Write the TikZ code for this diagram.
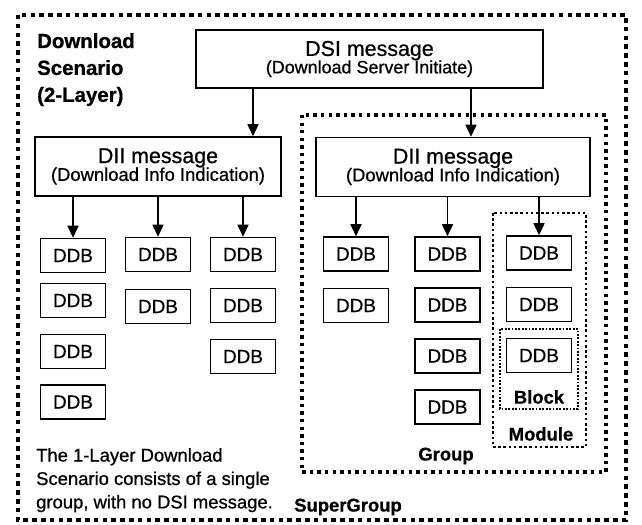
\documentclass[tikz,border=0pt]{standalone}
\usepackage{fontspec}
\setmainfont{Liberation Sans}[FakeBold=0.7]
\usetikzlibrary{arrows.meta}
\begin{document}
\begin{tikzpicture}[x=1bp,y=-1bp,
  box/.style={draw,line width=1.5bp,inner sep=0pt},
  msgbox/.style={box,align=center},
  ddb/.style={box,minimum width=65bp,minimum height=34bp,font=\fontsize{19}{20}\selectfont},
  arr/.style={line width=1.5bp,-{Triangle[width=11bp,length=12bp]}},
  outerframe/.style={line width=4.5bp,dash pattern=on 4.5bp off 4.3bp},
  groupframe/.style={line width=3.3bp,dash pattern=on 3.3bp off 4.3bp},
  moduleframe/.style={line width=2.6bp,dash pattern=on 2.6bp off 2.6bp},
  blockframe/.style={line width=1.6bp,dash pattern=on 1.8bp off 1.6bp},
  lbl/.style={font=\bfseries\fontsize{18.5}{20}\selectfont,inner sep=0pt}]
\useasboundingbox[fill=white] (0,0) rectangle (642,525);
% frames
\draw[outerframe] (18,15) rectangle (626,520);
\draw[groupframe] (302,115) rectangle (606,472);
\draw[moduleframe] (493,213) rectangle (586,447);
\draw[blockframe] (500,329) rectangle (578,409);
% message boxes
\node[msgbox,minimum width=347bp,minimum height=58bp] (dsi) at (369.5,59)
  {\fontsize{21.5}{26}\selectfont DSI message\\[-1bp]\fontsize{18}{22}\selectfont (Download Server Initiate)};
\node[msgbox,minimum width=246bp,minimum height=59bp] (ldii) at (158,166.5)
  {\fontsize{21.5}{26}\selectfont DII message\\[-1bp]\fontsize{18.5}{22}\selectfont (Download Info Indication)};
\node[msgbox,minimum width=274bp,minimum height=59bp] (rdii) at (453,167)
  {\fontsize{21.5}{26}\selectfont DII message\\[-1bp]\fontsize{18.5}{22}\selectfont (Download Info Indication)};
% DDB boxes, left group
\node[ddb] (a1) at (73,255.5) {DDB};
\node[ddb] (a2) at (73,300.5) {DDB};
\node[ddb] (a3) at (73,351.5) {DDB};
\node[ddb] (a4) at (73,402) {DDB};
\node[ddb] (b1) at (158,254.5) {DDB};
\node[ddb] (b2) at (158,306.5) {DDB};
\node[ddb] (c1) at (243,254.5) {DDB};
\node[ddb] (c2) at (243,305.5) {DDB};
\node[ddb] (c3) at (243,356.5) {DDB};
% DDB boxes, right group
\node[ddb] (d1) at (356,254) {DDB};
\node[ddb] (d2) at (356,305.5) {DDB};
\node[ddb] (e1) at (447.5,254) {DDB};
\node[ddb] (e2) at (447.5,305) {DDB};
\node[ddb] (e3) at (447.5,356) {DDB};
\node[ddb] (e4) at (447.5,407) {DDB};
\node[ddb] (f1) at (539,253) {DDB};
\node[ddb] (f2) at (539,304.5) {DDB};
\node[ddb] (f3) at (539,355.5) {DDB};
% arrows
\draw[arr] (253,0 |- dsi.south) -- (253,0 |- ldii.north);
\draw[arr] (471,0 |- dsi.south) -- (471,0 |- rdii.north);
\draw[arr] (ldii.south -| a1.north) -- (a1.north);
\draw[arr] (ldii.south -| b1.north) -- (b1.north);
\draw[arr] (ldii.south -| c1.north) -- (c1.north);
\draw[arr] (rdii.south -| d1.north) -- (d1.north);
\draw[arr] (rdii.south -| e1.north) -- (e1.north);
\draw[arr] (rdii.south -| f1.north) -- (f1.north);
% labels
\node[lbl,font=\bfseries\fontsize{20.5}{27}\selectfont,align=left,anchor=north west] (title) at (37,33)
  {Download\\Scenario\\(2-Layer)};
\node[lbl] (block) at (539,397) {Block};
\node[lbl] (module) at (541,434) {Module};
\node[lbl] (group) at (446,456) {Group};
\node[lbl] (super) at (348,507) {SuperGroup};
\node[inner sep=0pt,align=left,anchor=north west,font=\fontsize{18.5}{23.5}\selectfont] (note) at (36,448)
  {The 1-Layer Download\\Scenario consists of a single\\group, with no DSI message.};
\end{tikzpicture}
\end{document}
